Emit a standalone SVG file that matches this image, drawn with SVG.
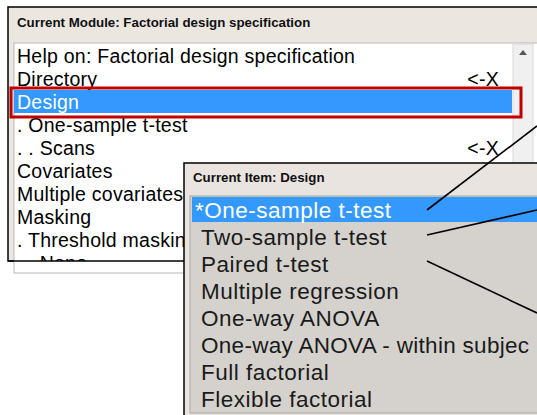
<svg xmlns="http://www.w3.org/2000/svg" width="537" height="415" viewBox="0 0 537 415">
<style>
.title{font-family:"Liberation Sans",Arial,sans-serif;font-weight:bold;font-size:13.3px;fill:#111}
.t1{font-family:"Liberation Sans",Arial,sans-serif;font-size:19.5px;letter-spacing:0.25px;fill:#000}
.t2{font-family:"Liberation Sans",Arial,sans-serif;font-size:22.5px;letter-spacing:0.5px;fill:#1a1a1a}
.sel{fill:#fff}
.conn{stroke:#000;stroke-width:1.6;fill:none}
</style>
<defs>
<clipPath id="c1"><rect x="14" y="43" width="523" height="218"/></clipPath>
</defs>
<rect width="537" height="415" fill="#fff"/>
<g id="module-window">
<rect x="8" y="7" width="540" height="254" fill="#ece6e1" stroke="#000" stroke-width="1.5"/>
<text class="title" x="17" y="27">Current Module: Factorial design specification</text>
<rect x="14" y="43" width="530" height="230" fill="#fff" stroke="#b8b8b8" stroke-width="1"/>
<rect x="513" y="44" width="20" height="230" fill="#f0f0f0" stroke="#d8d8d8" stroke-width="1"/>
<path d="M519 55 L523 50 L527 55 Z" fill="#555"/>
<g clip-path="url(#c1)">
<rect x="14" y="90" width="498" height="23" fill="#3399ff"/>
<text class="t1" x="17" y="63">Help on: Factorial design specification</text>
<text class="t1" x="17" y="86">Directory</text>
<text class="t1 sel" x="17" y="109">Design</text>
<text class="t1" x="17" y="132">. One-sample t-test</text>
<text class="t1" x="17" y="155">. . Scans</text>
<text class="t1" x="17" y="178">Covariates</text>
<text class="t1" x="17" y="201">Multiple covariates</text>
<text class="t1" x="17" y="224">Masking</text>
<text class="t1" x="17" y="247">. Threshold masking</text>
<text class="t1" x="17" y="270">. . None</text>
<text class="t1" x="499" y="86" text-anchor="end">&lt;-X</text>
<text class="t1" x="499" y="155" text-anchor="end">&lt;-X</text>
</g>
<rect x="11" y="88" width="510" height="29" fill="none" stroke="#c00000" stroke-width="3"/>
<line x1="8" y1="261" x2="186" y2="261" stroke="#000" stroke-width="1.5"/>
</g>
<g id="item-window">
<rect x="184" y="163" width="360" height="260" fill="#e9e4df" stroke="#000" stroke-width="1.5"/>
<text class="title" x="193" y="182">Current Item: Design</text>
<rect x="190" y="196" width="360" height="217" fill="#d5d2cd" stroke="#a8a5a0" stroke-width="1"/>
<rect x="192" y="197" width="350" height="25" fill="#3399ff"/>
<text class="t2 sel" x="195" y="218">*One-sample t-test</text>
<text class="t2" x="201" y="245">Two-sample t-test</text>
<text class="t2" x="201" y="272">Paired t-test</text>
<text class="t2" x="201" y="299">Multiple regression</text>
<text class="t2" x="201" y="326">One-way ANOVA</text>
<text class="t2" x="201" y="353" style="letter-spacing:0.3px">One-way ANOVA - within subjec</text>
<text class="t2" x="201" y="380">Full factorial</text>
<text class="t2" x="201" y="407">Flexible factorial</text>
</g>
<g id="connectors">
<line class="conn" x1="537" y1="126" x2="427" y2="210"/>
<line class="conn" x1="537" y1="210" x2="427" y2="235"/>
<line class="conn" x1="427" y1="261" x2="537" y2="313"/>
</g>
</svg>
